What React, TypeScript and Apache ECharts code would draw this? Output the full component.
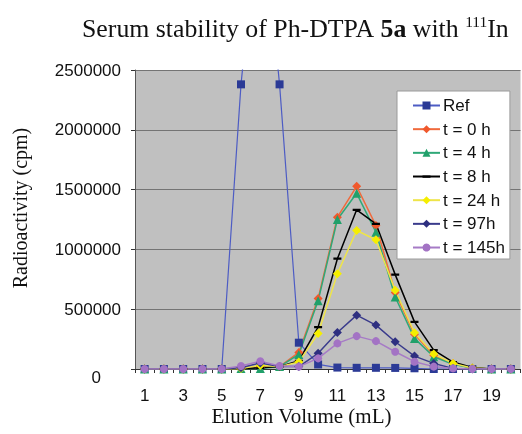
import React, { useEffect, useRef } from "react";
import * as echarts from "echarts";

const categories = ["1","2","3","4","5","6","7","8","9","10","11","12","13","14","15","16","17","18","19","20"];
const seriesNames = ["Ref", "t = 0 h", "t = 4 h", "t = 8 h", "t = 24 h", "t = 97h", "t = 145h"];
const ref = [0, 0, 0, 0, 0, 2380000, 4000000, 2380000, 220000, 38000, 12000, 10000, 10000, 9000, 6000, 0, 0, 0, 0, 0];
const t0 = [0, 0, 0, 0, 0, 5000, 15000, 20000, 139000, 589000, 1269000, 1527000, 1200000, 640000, 290000, 115000, 45000, 8000, 0, 0];
const t4 = [0, 0, 0, 0, 0, 5000, 5000, 20000, 122000, 570000, 1250000, 1469000, 1144000, 602000, 256000, 103000, 40000, 8000, 0, 0];
const t8 = [0, 0, 0, 0, 0, 5000, 10000, 20000, 69000, 350000, 922000, 1331000, 1214000, 789000, 394000, 158000, 58000, 12000, 0, 0];
const t24 = [0, 0, 0, 0, 0, 5000, 30000, 20000, 58000, 297000, 797000, 1158000, 1081000, 658000, 303000, 125000, 47000, 8000, 0, 0];
const t97 = [0, 0, 0, 0, 0, 10000, 50000, 20000, 20000, 131000, 305000, 450000, 367000, 228000, 108000, 47000, 5000, 0, 0, 0];
const t145 = [0, 0, 0, 0, 0, 25000, 65000, 25000, 20000, 89000, 214000, 275000, 233000, 144000, 61000, 20000, 5000, 0, 0, 0];
const yTicks = [0, 500000, 1000000, 1500000, 2000000, 2500000];

const SANS = "'Liberation Sans', Arial, sans-serif";
const SERIF = "'Liberation Serif', 'Times New Roman', serif";
const DASH = "path://M0,0L0.01,0M0,3.6H10V6.4H0ZM10,10L9.99,10";

export default function App() {
  const ref1 = useRef<HTMLDivElement>(null);
  useEffect(() => {
    if (!ref1.current) return;
    const chart = echarts.init(ref1.current, undefined, { renderer: "svg" });
    const mk = (name: string, data: number[], color: string, lineColor: string, symbol: string, size: any, width: number) => ({
      name,
      type: "line",
      data,
      symbol,
      symbolSize: size,
      clip: true,
      itemStyle: { color },
      lineStyle: { color: lineColor, width },
      emphasis: { disabled: true },
    });
    chart.setOption({
      animation: false,
      title: {
        text: "{n|Serum stability of Ph-DTPA }{b|5a}{n| with }{s|111}{n|In}",
        left: 77,
        top: 8,
        textStyle: {
          fontWeight: "normal",
          rich: {
            n: { fontFamily: SERIF, fontSize: 25.8, fontWeight: "normal", color: "#111", lineHeight: 30 },
            b: { fontFamily: SERIF, fontSize: 25.8, fontWeight: "bold", color: "#111", lineHeight: 30 },
            s: { fontFamily: SERIF, fontSize: 15.5, fontWeight: "normal", color: "#111", verticalAlign: "top", lineHeight: 30, padding: [0, 0, 10, 0] },
          },
        },
      },
      graphic: [
        {
          type: "text",
          x: 20,
          y: 208,
          rotation: Math.PI / 2,
          style: { text: "Radioactivity (cpm)", font: `20px ${SERIF}`, fill: "#111", align: "center", verticalAlign: "middle" },
        },
        {
          type: "text",
          x: 301.5,
          y: 416,
          style: { text: "Elution Volume (mL)", font: `21px ${SERIF}`, fill: "#111", align: "center", verticalAlign: "middle" },
        },
      ],
      legend: {
        orient: "vertical",
        left: 397,
        top: 91,
        data: seriesNames,
        backgroundColor: "#ffffff",
        borderColor: "#9a9a9a",
        borderWidth: 1,
        padding: [6, 5, 3, 15],
        itemWidth: 27,
        itemHeight: 10,
        itemGap: 6.67,
        textStyle: { fontFamily: SANS, fontSize: 17, color: "#111", lineHeight: 17, padding: [0, 0, 0, -2] },
      },
      grid: {
        left: 135,
        right: 1.5,
        top: 70,
        bottom: 65,
        show: true,
        backgroundColor: "#c0c0c0",
        borderWidth: 0,
      },
      xAxis: {
        type: "category",
        data: categories,
        boundaryGap: true,
        axisLine: { lineStyle: { color: "#333", width: 1 } },
        axisTick: { show: true, interval: 0, length: 4, lineStyle: { color: "#333" } },
        axisLabel: { interval: 1, margin: 18, fontFamily: SANS, fontSize: 17, color: "#111" },
        splitLine: { show: false },
      },
      yAxis: {
        type: "value",
        min: yTicks[0],
        max: yTicks[yTicks.length - 1],
        interval: 500000,
        axisLine: { show: true, lineStyle: { color: "#555", width: 1 } },
        axisTick: { show: true, length: 4, lineStyle: { color: "#333" } },
        axisLabel: {
          margin: 14,
          fontFamily: SANS,
          fontSize: 17,
          color: "#111",
          formatter: (v: number) => (v === 0 ? "{z|0}" : String(v)),
          rich: { z: { fontFamily: SANS, fontSize: 17, color: "#111", padding: [16, 20, 0, 0] } },
        },
        splitLine: { show: true, lineStyle: { color: "#747474", width: 1 } },
      },
      series: [
        mk(seriesNames[0], ref, "#2b3a96", "#4d5cc4", "rect", 8, 1.2),
        mk(seriesNames[1], t0, "#f0582c", "#f06a3c", "diamond", 9, 1.5),
        mk(seriesNames[2], t4, "#21a06a", "#2fa878", "triangle", 9, 1.5),
        mk(seriesNames[3], t8, "#000000", "#000000", DASH, 8, 1.5),
        mk(seriesNames[4], t24, "#f5ee00", "#eee44a", "diamond", 9, 1.5),
        mk(seriesNames[5], t97, "#2e2f80", "#3a3b8c", "diamond", 9, 1.5),
        mk(seriesNames[6], t145, "#a373c4", "#a67bc6", "circle", 8, 1.5),
      ],
    });
    return () => chart.dispose();
  }, []);
  return <div ref={ref1} style={{ position: "fixed", left: 0, top: 0, width: 522, height: 434 }} />;
}
